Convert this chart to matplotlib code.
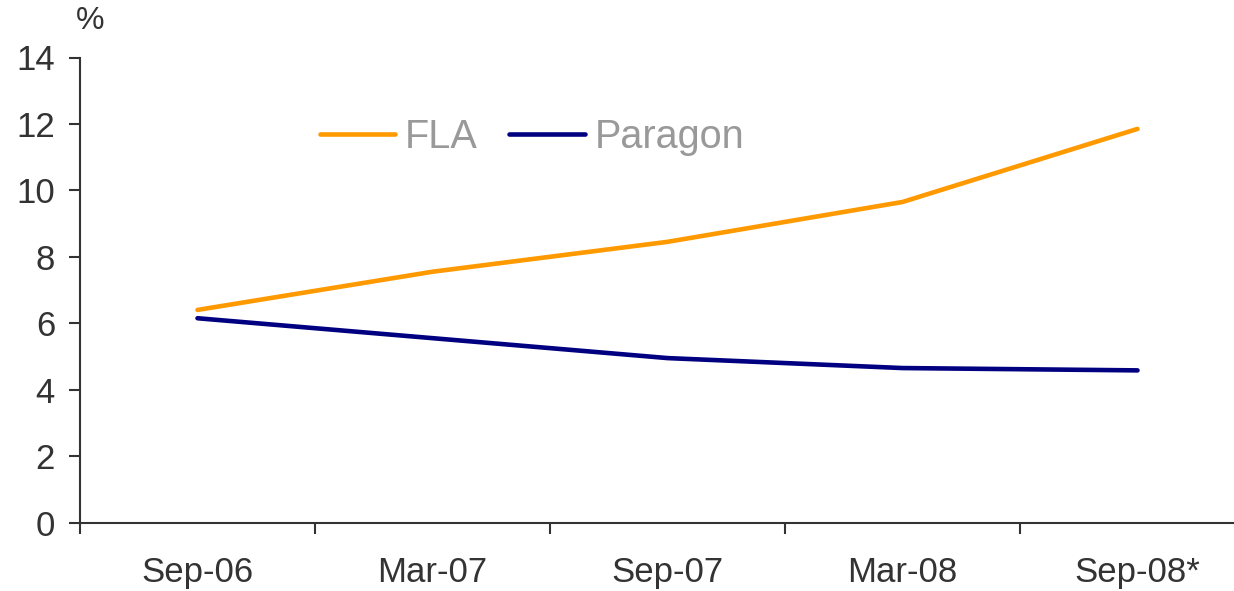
import matplotlib.pyplot as plt

categories = ["Sep-06", "Mar-07", "Sep-07", "Mar-08", "Sep-08*"]
fla = [6.4, 7.55, 8.45, 9.65, 11.85]
paragon = [6.15, 5.55, 4.95, 4.65, 4.58]

plt.rcParams['font.family'] = ['Liberation Sans', 'DejaVu Sans']
axis_color = "#333333"

W, H = 1234, 591
fig = plt.figure(figsize=(W / 100, H / 100), dpi=100)
# axes spans x from 80px to ~1255px (runs off the right edge), y from 522px to 57px
ax = fig.add_axes([80 / W, (H - 522.5) / H, (1255 - 80) / W, (522.5 - 57.5) / H])

x = list(range(len(categories)))
ax.plot(x, fla, color="#FF9900", lw=3.3, label="FLA", solid_capstyle="round")
ax.plot(x, paragon, color="#000080", lw=3.3, label="Paragon", solid_capstyle="round")

ax.set_xlim(-0.5, len(categories) - 0.5)
ax.set_ylim(0, 14)
ax.set_yticks(range(0, 15, 2))
ax.set_xticks(x)
ax.set_xticklabels(categories)
ax.set_xticks([i - 0.5 for i in range(len(categories) + 1)], minor=True)
ax.tick_params(axis="x", which="major", length=0, pad=24, labelsize=25, colors=axis_color)
ax.tick_params(axis="x", which="minor", length=8, width=1.5, color=axis_color, direction="out")
ax.tick_params(axis="y", length=8, width=1.5, pad=10, labelsize=25, colors=axis_color, direction="out")

for s in ["top", "right"]:
    ax.spines[s].set_visible(False)
for s in ["left", "bottom"]:
    ax.spines[s].set_color(axis_color)
    ax.spines[s].set_linewidth(1.5)

fig.text(90 / W, 1 - 21 / H, "%", fontsize=23, color=axis_color, ha="center", va="center")

ax.legend(loc="center", bbox_to_anchor=(532 / W, 1 - 137 / H), bbox_transform=fig.transFigure,
          ncol=2, frameon=False, fontsize=28.5, labelcolor="#999999",
          handlelength=1.9, handletextpad=0.25, columnspacing=0.8)

plt.savefig("out.png", dpi=100)
